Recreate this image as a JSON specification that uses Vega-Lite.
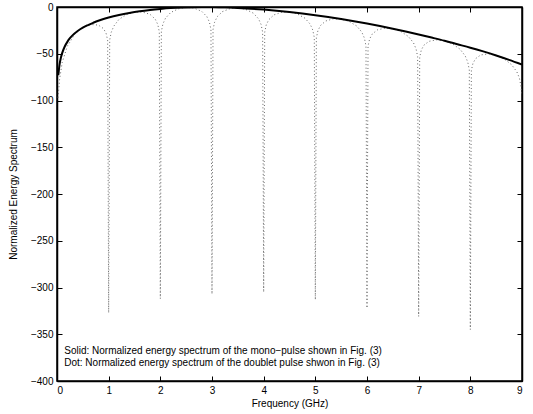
{
  "$schema": "https://vega.github.io/schema/vega-lite/v6.json",
  "width": 465,
  "height": 374,
  "autosize": "none",
  "padding": {"left": 57, "top": 7, "right": 11, "bottom": 33},
  "background": "white",
  "config": {
    "view": {"stroke": "black", "strokeWidth": 1.5},
    "axis": {
      "grid": false,
      "domainColor": "black",
      "domainWidth": 1.5,
      "tickColor": "black",
      "labelColor": "black",
      "titleColor": "black",
      "labelFont": "Liberation Sans",
      "titleFont": "Liberation Sans",
      "labelFontSize": 10,
      "titleFontSize": 10,
      "titleFontWeight": "normal",
      "tickSize": -5,
      "labelPadding": 9
    }
  },
  "layer": [
    {
      "data": {"values": [
        {"f":0.02,"db":-97},{"f":0.05,"db":-77.4},{"f":0.1,"db":-59.5},{"f":0.2,"db":-41.9},{"f":0.35,"db":-28.6},{"f":0.5,"db":-21.6},{"f":0.65,"db":-18.7},{"f":0.8,"db":-19.3},{"f":0.9,"db":-23.1},{"f":0.95,"db":-28.1},{"f":0.98,"db":-35.5},{"f":1.0,"db":-327},
        {"f":1.02,"db":-35.2},{"f":1.05,"db":-27},{"f":1.1,"db":-20.4},{"f":1.2,"db":-13.2},{"f":1.35,"db":-8},{"f":1.5,"db":-5.5},{"f":1.65,"db":-5.3},{"f":1.8,"db":-7.8},{"f":1.9,"db":-12.9},{"f":1.95,"db":-18.6},{"f":1.98,"db":-26.4},{"f":2.0,"db":-312},
        {"f":2.02,"db":-26.1},{"f":2.05,"db":-18.1},{"f":2.1,"db":-12},{"f":2.2,"db":-5.9},{"f":2.35,"db":-1.9},{"f":2.5,"db":-0.4},{"f":2.65,"db":-1.1},{"f":2.8,"db":-4.6},{"f":2.9,"db":-10.2},{"f":2.95,"db":-16.2},{"f":2.98,"db":-24.1},{"f":3.0,"db":-307},
        {"f":3.02,"db":-24.1},{"f":3.05,"db":-16.3},{"f":3.1,"db":-10.4},{"f":3.2,"db":-5},{"f":3.35,"db":-1.7},{"f":3.5,"db":-1},{"f":3.65,"db":-2.5},{"f":3.8,"db":-6.6},{"f":3.9,"db":-12.6},{"f":3.95,"db":-18.7},{"f":3.98,"db":-26.8},{"f":4.0,"db":-305},
        {"f":4.02,"db":-26.9},{"f":4.05,"db":-19.1},{"f":4.1,"db":-13.5},{"f":4.2,"db":-8.4},{"f":4.35,"db":-5.6},{"f":4.5,"db":-5.4},{"f":4.65,"db":-7.4},{"f":4.8,"db":-12},{"f":4.9,"db":-18.3},{"f":4.95,"db":-24.6},{"f":4.98,"db":-32.7},{"f":5.0,"db":-313},
        {"f":5.02,"db":-33},{"f":5.05,"db":-25.3},{"f":5.1,"db":-19.8},{"f":5.2,"db":-15},{"f":5.35,"db":-12.6},{"f":5.5,"db":-12.9},{"f":5.65,"db":-15.3},{"f":5.8,"db":-20.3},{"f":5.9,"db":-26.9},{"f":5.95,"db":-33.3},{"f":5.98,"db":-41.5},{"f":6.0,"db":-322},
        {"f":6.02,"db":-41.9},{"f":6.05,"db":-34.3},{"f":6.1,"db":-29},{"f":6.2,"db":-24.5},{"f":6.35,"db":-22.6},{"f":6.5,"db":-23.2},{"f":6.65,"db":-26},{"f":6.8,"db":-31.5},{"f":6.9,"db":-38.3},{"f":6.95,"db":-44.9},{"f":6.98,"db":-53.1},{"f":7.0,"db":-331},
        {"f":7.02,"db":-53.7},{"f":7.05,"db":-46.2},{"f":7.1,"db":-40.9},{"f":7.2,"db":-36.7},{"f":7.35,"db":-35.1},{"f":7.5,"db":-36.1},{"f":7.65,"db":-39.3},{"f":7.8,"db":-45.1},{"f":7.9,"db":-52.2},{"f":7.95,"db":-58.9},{"f":7.98,"db":-67.2},{"f":8.0,"db":-345},
        {"f":8.02,"db":-67.8},{"f":8.05,"db":-60.4},{"f":8.1,"db":-55.3},{"f":8.2,"db":-51.3},{"f":8.35,"db":-50.1},{"f":8.5,"db":-51.6},{"f":8.65,"db":-55.3},{"f":8.8,"db":-61.8},{"f":8.9,"db":-69.3},{"f":8.95,"db":-76.1},{"f":8.98,"db":-84.6},{"f":9.0,"db":-95}
      ]},
      "mark": {"type": "line", "color": "#666666", "strokeWidth": 1, "strokeDash": [1, 2.5], "clip": true},
      "encoding": {
        "x": {"field": "f", "type": "quantitative", "scale": {"domain": [0, 9], "nice": false},
              "axis": {"orient": "bottom", "title": "Frequency (GHz)", "values": [0,1,2,3,4,5,6,7,8,9], "titlePadding": 3}},
        "y": {"field": "db", "type": "quantitative", "scale": {"domain": [-400, 0], "nice": false},
              "axis": {"orient": "left", "title": "Normalized Energy Spectrum", "values": [-400,-350,-300,-250,-200,-150,-100,-50,0], "titlePadding": 12}}
      }
    },
    {
      "data": {"values": [
        {"f":0.025,"db":-73},{"f":0.05,"db":-61.3},{"f":0.075,"db":-54.3},{"f":0.1,"db":-49.3},{"f":0.15,"db":-42.2},{"f":0.2,"db":-37.3},{"f":0.25,"db":-33.4},{"f":0.3,"db":-30.3},{"f":0.4,"db":-25.6},{"f":0.5,"db":-22},{"f":0.6,"db":-19.3},{"f":0.7,"db":-16.9},{"f":0.8,"db":-14.7},{"f":0.9,"db":-12.9},{"f":1.0,"db":-11.3},{"f":1.2,"db":-8.6},{"f":1.4,"db":-6.4},{"f":1.6,"db":-4.6},{"f":1.8,"db":-3.2},{"f":2.0,"db":-2.1},{"f":2.2,"db":-1.2},{"f":2.4,"db":-0.6},{"f":2.6,"db":-0.2},{"f":2.8,"db":0},{"f":3.0,"db":-0.1},{"f":3.25,"db":-0.4},{"f":3.5,"db":-1},{"f":3.75,"db":-1.8},{"f":4.0,"db":-2.8},{"f":4.25,"db":-4},{"f":4.5,"db":-5.4},{"f":4.75,"db":-7},{"f":5.0,"db":-8.8},{"f":5.25,"db":-10.8},{"f":5.5,"db":-12.9},{"f":5.75,"db":-15.2},{"f":6.0,"db":-17.7},{"f":6.25,"db":-20.4},{"f":6.5,"db":-23.2},{"f":6.75,"db":-26.2},{"f":7.0,"db":-29.4},{"f":7.25,"db":-32.7},{"f":7.5,"db":-36.1},{"f":7.75,"db":-39.8},{"f":8.0,"db":-43.5},{"f":8.25,"db":-47.5},{"f":8.5,"db":-51.8},{"f":8.75,"db":-56.5},{"f":9.0,"db":-61.5}
      ]},
      "mark": {"type": "line", "color": "black", "strokeWidth": 2, "interpolate": "monotone", "clip": true},
      "encoding": {
        "x": {"field": "f", "type": "quantitative", "scale": {"domain": [0, 9], "nice": false},
              "axis": {"orient": "top", "title": null, "labels": false, "values": [0,1,2,3,4,5,6,7,8,9]}},
        "y": {"field": "db", "type": "quantitative", "scale": {"domain": [-400, 0], "nice": false},
              "axis": {"orient": "right", "title": null, "labels": false, "values": [-400,-350,-300,-250,-200,-150,-100,-50,0]}}
      }
    },
    {
      "data": {"values": [
        {"f": 0.14, "db": -367.6, "t": "Solid: Normalized energy spectrum of the mono−pulse shown in Fig. (3)"},
        {"f": 0.14, "db": -380.4, "t": "Dot: Normalized energy spectrum of the doublet pulse shwon in Fig. (3)"}
      ]},
      "mark": {"type": "text", "align": "left", "baseline": "middle", "font": "Liberation Sans", "fontSize": 10, "color": "black"},
      "encoding": {
        "x": {"field": "f", "type": "quantitative", "axis": null},
        "y": {"field": "db", "type": "quantitative", "axis": null},
        "text": {"field": "t"}
      }
    }
  ],
  "resolve": {"axis": {"x": "independent", "y": "independent"}}
}
